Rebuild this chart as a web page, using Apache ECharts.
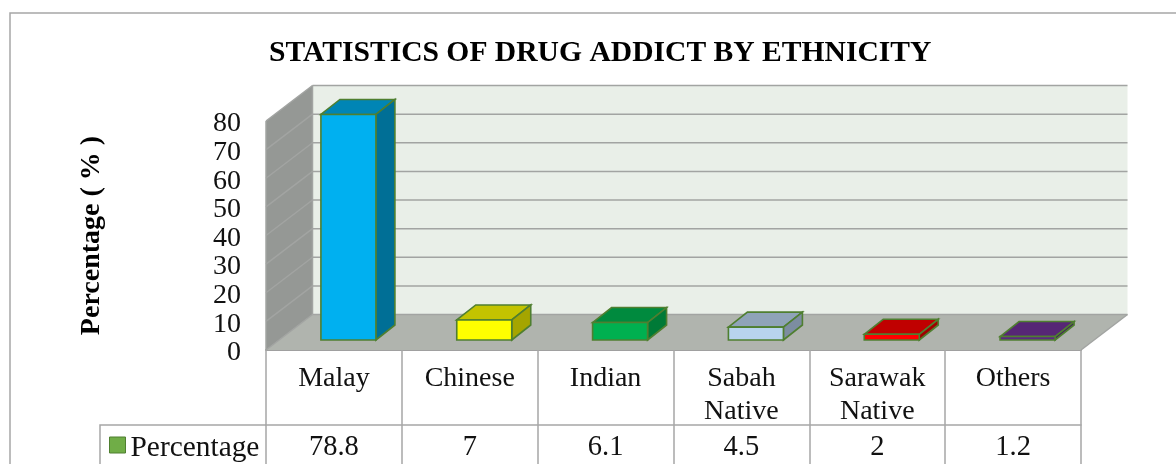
<!DOCTYPE html>
<html><head><meta charset="utf-8">
<style>html,body{margin:0;padding:0;background:#fff}#c{width:1176px;height:464px}</style>
<script src="https://cdn.jsdelivr.net/npm/echarts@6/dist/echarts.min.js"></script>
</head><body><div id="c"></div>
<script>
const categories = ['Malay','Chinese','Indian','Sabah\nNative','Sarawak\nNative','Others'];
const values = [78.8, 7, 6.1, 4.5, 2, 1.2];
const ticks = [0,10,20,30,40,50,60,70];
const titleText = 'STATISTICS OF DRUG ADDICT BY ETHNICITY';
const axisTitle = 'Percentage ( % )';
const seriesName = 'Percentage';
const frontColors = ['#00b0f0','#ffff00','#00b050','#b8d4ee','#ff0000','#5a2a80'];
const topColors   = ['#0085b5','#c3c300','#008a3e','#8fa3b8','#c00000','#562675'];
const sideColors  = ['#006f96','#a5a500','#007a37','#7c8da0','#a00000','#43205e'];

const serif = '"Liberation Serif","Times New Roman",serif';
const DX = 46.5, DY = 35.5;      // depth of the room
const BDX = 19, BDY = 15;        // depth of a bar
const BAR_W = 55, BAR_OFF = -13, BAR_LIFT = 10;
const EDGE = '#4f7f30', GRID = '#a2a4a2';

function poly(points, fill, stroke, lw){
  return {type:'polygon', shape:{points}, style:{fill, stroke:stroke||'none', lineWidth:lw||0}};
}
function line(x1,y1,x2,y2,color,lw){
  return {type:'line', shape:{x1,y1,x2,y2}, style:{stroke:color, lineWidth:lw||1.5, fill:'none'}};
}
function renderRoom(params, api){
  const cs = params.coordSys;
  const L = cs.x, R = cs.x+cs.width, T = cs.y, B = cs.y+cs.height;
  const kids = [
    poly([[L+DX,T-DY],[R+DX,T-DY],[R+DX,B-DY],[L+DX,B-DY]],'#e9efe8'),
    poly([[L,T],[L+DX,T-DY],[L+DX,B-DY],[L,B]],'#959895'),
    poly([[L,B],[L+DX,B-DY],[R+DX,B-DY],[R,B]],'#b0b4ae'),
    line(L,T,L+DX,T-DY,GRID),
    line(L,T,L,B,GRID),
    line(L+DX,T-DY,L+DX,B-DY,GRID),
    line(L+DX,B-DY,R+DX,B-DY,GRID),
    line(R,B,R+DX,B-DY,GRID),
    line(L,B,L+DX,B-DY,GRID)
  ];
  ticks.concat([80]).forEach(function(v){
    const y = api.coord([0,v])[1];
    if (v>0 && v<80){
      kids.push(line(L,y,L+DX,y-DY,GRID));
    }
    if (v>0){
      kids.push(line(L+DX,y-DY,R+DX,y-DY,GRID));
    }
  });
  return {type:'group', children:kids};
}
function renderBar(params, api){
  const i = api.value(0), v = api.value(1);
  const c = api.coord([i,v]), z = api.coord([i,0]);
  const x0 = c[0]+BAR_OFF, x1 = x0+BAR_W, yT = c[1]-BAR_LIFT, yB = z[1]-BAR_LIFT;
  return {type:'group', children:[
    poly([[x0,yT],[x0+BDX,yT-BDY],[x1+BDX,yT-BDY],[x1,yT]],topColors[i],EDGE,1.6),
    poly([[x1,yT],[x1+BDX,yT-BDY],[x1+BDX,yB-BDY],[x1,yB]],sideColors[i],EDGE,1.6),
    poly([[x0,yT],[x1,yT],[x1,yB],[x0,yB]],frontColors[i],EDGE,1.6)
  ]};
}

const chart = echarts.init(document.getElementById('c'), null, {renderer:'canvas'});
chart.setOption({
  animation:false,
  backgroundColor:'#fff',
  title:{text:titleText, left:269, top:38, padding:0,
    textStyle:{fontFamily:serif, fontSize:29.6, fontWeight:'bold', color:'#000'}},
  legend:{left:109, top:434, padding:0, itemWidth:16, itemHeight:16, itemGap:0,
    data:[{name:seriesName, icon:'rect', itemStyle:{color:'#70ad47', borderColor:'#4f7f30', borderWidth:1}}],
    formatter:function(n){return '{a|'+n+'}';},
    textStyle:{rich:{a:{fontFamily:serif, fontSize:29.4, color:'#111', padding:[7,0,0,0]}}}},
  grid:{left:266, right:95, top:121, bottom:114},
  xAxis:[
    {type:'category', data:categories, position:'bottom',
     axisLine:{show:true, lineStyle:{color:'#a0a0a0', width:2}},
     axisTick:{show:true, length:114, lineStyle:{color:'#a6a6a6', width:1.5}},
     axisLabel:{fontFamily:serif, fontSize:28, color:'#111', lineHeight:33, margin:12},
     splitLine:{show:false}},
    {type:'category', data:values.map(String), position:'bottom', offset:75,
     axisLine:{show:true, lineStyle:{color:'#a6a6a6', width:1.5}},
     axisTick:{show:false},
     axisLabel:{fontFamily:serif, fontSize:28.5, color:'#111', margin:8},
     splitLine:{show:false}}
  ],
  yAxis:{type:'value', min:0, max:80, interval:10,
    name:axisTitle, nameLocation:'middle', nameRotate:90, nameGap:160,
    nameTextStyle:{fontFamily:serif, fontSize:28, fontWeight:'bold', color:'#000'},
    axisLine:{show:false}, axisTick:{show:false}, splitLine:{show:false},
    axisLabel:{margin:25, formatter:function(v){return '{a|'+v+'}';},
      rich:{a:{fontFamily:serif, fontSize:28, color:'#111', padding:[6,0,0,0]}}}},
  graphic:[
    {type:'polyline', shape:{points:[[10,464],[10,13],[1176,13]]}, silent:true, z:-1,
      style:{stroke:'#a6a6a6', lineWidth:1.5, fill:'none'}},
    {type:'polyline', shape:{points:[[266,425],[100,425],[100,464]]}, silent:true,
      style:{stroke:'#a6a6a6', lineWidth:1.5, fill:'none'}}
  ],
  series:[
    {type:'custom', name:'room', coordinateSystem:'cartesian2d', silent:true, z:1,
     renderItem:renderRoom, data:[[0,0]], encode:{x:0,y:1}},
    {type:'custom', name:seriesName, coordinateSystem:'cartesian2d', z:2,
     renderItem:renderBar, data:values.map(function(v,i){return [i,v];}), encode:{x:0,y:1}}
  ]
});
</script></body></html>
